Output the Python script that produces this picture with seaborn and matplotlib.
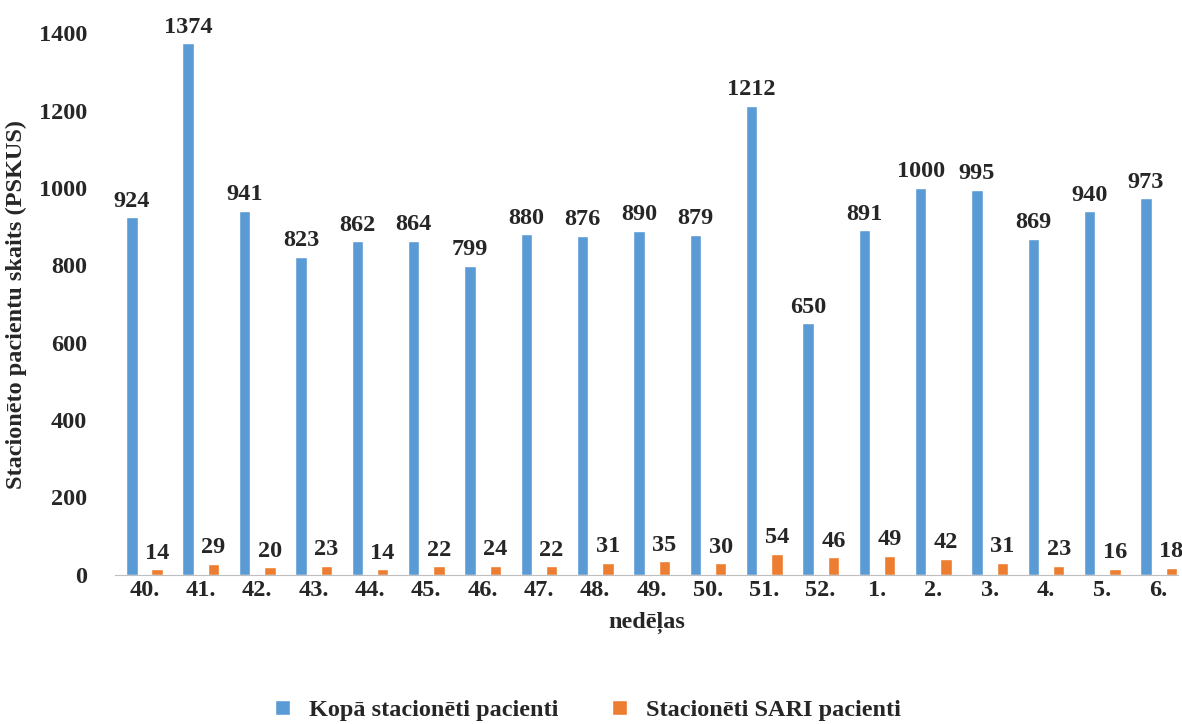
import matplotlib

matplotlib.use("Agg")
import matplotlib.pyplot as plt
import pandas as pd
import seaborn as sns

WEEKS = ["40.", "41.", "42.", "43.", "44.", "45.", "46.", "47.", "48.", "49.",
         "50.", "51.", "52.", "1.", "2.", "3.", "4.", "5.", "6."]
TOTAL = [924, 1374, 941, 823, 862, 864, 799, 880, 876, 890, 879, 1212, 650,
         891, 1000, 995, 869, 940, 973]
SARI = [14, 29, 20, 23, 14, 22, 24, 22, 31, 35, 30, 54, 46, 49, 42, 31, 23, 16, 18]
SERIES = ["Kopā stacionēti pacienti", "Stacionēti SARI pacienti"]
COLORS = ["#5B9BD5", "#ED7D31"]
FS = 17.5


def main() -> None:
    df = pd.concat([
        pd.DataFrame({"week": WEEKS, "value": TOTAL, "series": SERIES[0]}),
        pd.DataFrame({"week": WEEKS, "value": SARI, "series": SERIES[1]}),
    ])

    sns.set_style("white")
    plt.rcParams["font.family"] = ["Liberation Serif", "DejaVu Serif"]
    plt.rcParams["font.weight"] = "bold"

    fig = plt.figure(figsize=(11.82, 7.24), dpi=100)
    ax = fig.add_axes([0.097, 0.206, 0.9, 0.748])
    sns.barplot(data=df, x="week", y="value", hue="series", palette=COLORS,
                saturation=1, width=0.9, gap=0.55, ax=ax, order=WEEKS,
                hue_order=SERIES)

    for container in ax.containers:
        ax.bar_label(container, padding=4, fontsize=FS, fontweight="bold")

    ax.set_ylim(0, 1400)
    ax.set_xlim(-0.53, 18.35)
    ax.set_yticks(range(0, 1401, 200))
    ax.tick_params(axis="both", labelsize=FS, length=0)
    ax.tick_params(axis="y", pad=20)
    for lbl in ax.get_xticklabels() + ax.get_yticklabels():
        lbl.set_fontweight("bold")
    for side in ["top", "right", "left"]:
        ax.spines[side].set_visible(False)
    ax.spines["bottom"].set_color("#BFBFBF")
    ax.set_xlabel("nedēļas", fontsize=FS, fontweight="bold", labelpad=8)
    ax.set_ylabel("Stacionēto pacientu skaits (PSKUS)", fontsize=FS,
                  fontweight="bold", labelpad=8)
    ax.legend(loc="upper center", bbox_to_anchor=(0.445, -0.19), ncol=2,
              frameon=False, fontsize=FS, handlelength=0.6, handleheight=0.6,
              columnspacing=2.2)

    fig.savefig("out.png", dpi=100)
    plt.close(fig)


if __name__ == "__main__":
    main()
